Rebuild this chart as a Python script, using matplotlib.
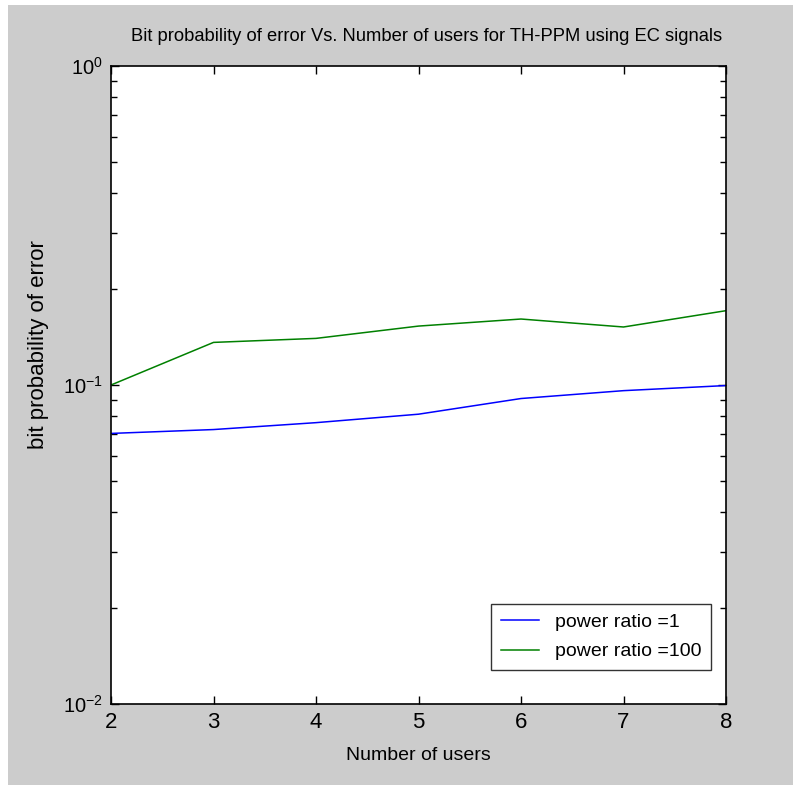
import numpy as np
import matplotlib
matplotlib.use("Agg")
import matplotlib.pyplot as plt
from matplotlib.patches import Rectangle
from matplotlib.ticker import FixedLocator, LogLocator, NullFormatter, FuncFormatter

# number of users and bit error probability for the two power ratios
users = [2, 3, 4, 5, 6, 7, 8]
pe_ratio1 = [0.0705, 0.0725, 0.0762, 0.0810, 0.0907, 0.0960, 0.0996]
pe_ratio100 = [0.100, 0.136, 0.140, 0.153, 0.161, 0.152, 0.171]

plt.rcParams['font.family'] = ['Liberation Sans', 'DejaVu Sans']
plt.rcParams['mathtext.default'] = 'regular'

fig = plt.figure(figsize=(7.93, 7.85), dpi=100, facecolor='white')
# grey window background
fig.patches.append(Rectangle((8/793, 0), 1, 1 - 5/785, transform=fig.transFigure,
                             facecolor='#cccccc', edgecolor='none', zorder=-10))

ax = fig.add_axes([111/793, 1 - 704/785, 615/793, 638/785])
ax.set_facecolor('white')

ax.plot(users, pe_ratio1, color='#0000ff', lw=1.1, label='power ratio =1')
ax.plot(users, pe_ratio100, color='#008000', lw=1.1, label='power ratio =100')

ax.set_yscale('log')
ax.set_xlim(2, 8)
ax.set_ylim(1e-2, 1)
ax.xaxis.set_major_locator(FixedLocator(users))
ax.yaxis.set_major_locator(FixedLocator([1e-2, 1e-1, 1]))
ax.yaxis.set_minor_locator(LogLocator(base=10, subs=np.arange(2, 10)))
ax.yaxis.set_minor_formatter(NullFormatter())
ax.yaxis.set_major_formatter(FuncFormatter(lambda v, p: r'$10^{%d}$' % round(np.log10(v))))

ax.tick_params(which='both', direction='in', top=True, right=True, colors='black',
               labelsize=16, width=1)
ax.tick_params(axis='y', labelsize=14.5)
ax.tick_params(which='major', length=6, pad=6)
ax.tick_params(which='minor', length=4)
for s in ax.spines.values():
    s.set_linewidth(1.2)

ax.set_title('Bit probability of error Vs. Number of users for TH-PPM using EC signals',
             fontsize=13.2, pad=18, x=0.513)
ax.set_xlabel('Number of users', fontsize=14, labelpad=10)
ax.set_ylabel('bit probability of error', fontsize=16)
ax.yaxis.set_label_coords(-0.1, 0.564)

leg = ax.legend(loc='lower right', bbox_to_anchor=(0.976, 0.053), borderaxespad=0,
                fontsize=14, frameon=True, fancybox=False, handlelength=2.0,
                handletextpad=0.8, borderpad=0.5, labelspacing=0.6)
leg.get_frame().set_edgecolor('black')
leg.get_frame().set_linewidth(1)

fig.savefig('out.png', dpi=100, facecolor=fig.get_facecolor())
